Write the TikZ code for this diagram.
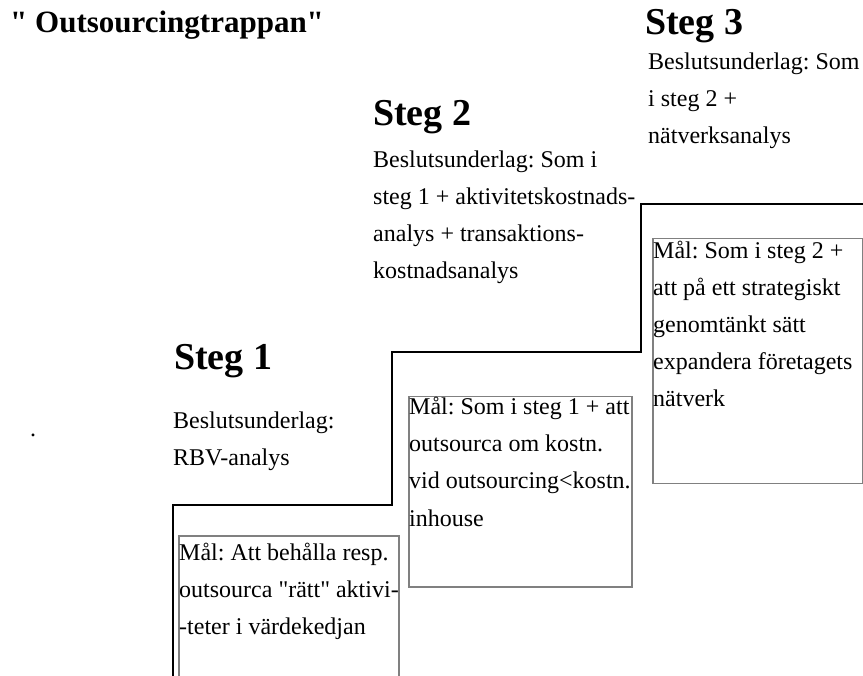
\documentclass[tikz,border=0pt]{standalone}
\usepackage{fontspec}
\setmainfont{Liberation Serif}[Ligatures=TeXOff]
\begin{document}
\frenchspacing
\begin{tikzpicture}[x=1pt,y=-1pt,
  body/.style={anchor=base west, inner sep=0pt, font=\fontsize{24}{37}\selectfont},
  stegtitle/.style={anchor=base west, inner sep=0pt, font=\fontsize{38}{40}\selectfont\bfseries},
  maintitle/.style={anchor=base west, inner sep=0pt, font=\fontsize{31}{36}\selectfont\bfseries},
  goalbox/.style={draw=black!50, line width=1.5pt, anchor=north west, inner sep=0pt},
  stair/.style={draw=black, line width=2pt}]
\useasboundingbox (0,0) rectangle (863,676);

% title
\node[maintitle] (title) at (10,33) {" Outsourcingtrappan"};
\node[body] (dot) at (30,437) {.};

% staircase
\coordinate (s0) at (173,690);
\coordinate (s1) at (173,505);
\coordinate (s2) at (392,505);
\coordinate (s3) at (392,352);
\coordinate (s4) at (641,352);
\coordinate (s5) at (641,204);
\coordinate (s6) at (870,204);
\draw[stair] (s0) -- (s1) -- (s2) -- (s3) -- (s4) -- (s5) -- (s6);

% Steg 3
\node[stegtitle] (t3) at (645,35) {Steg 3};
\node[body] (b3a) at (648,70) {Beslutsunderlag: Som};
\node[body] (b3b) at (648,107) {i steg 2 +};
\node[body] (b3c) at (648,144) {nätverksanalys};
\node[goalbox, minimum width=210pt, minimum height=245pt] (box3) at (652,238) {};
\node[body] (m3a) at (653,259) {Mål: Som i steg 2 +};
\node[body] (m3b) at (653,296) {att på ett strategiskt};
\node[body] (m3c) at (653,333) {genomtänkt sätt};
\node[body] (m3d) at (653,370) {expandera företagets};
\node[body] (m3e) at (653,407) {nätverk};

% Steg 2
\node[stegtitle] (t2) at (373,126) {Steg 2};
\node[body] (b2a) at (373,168) {Beslutsunderlag: Som i};
\node[body] (b2b) at (373,205) {steg 1 + aktivitetskostnads-};
\node[body] (b2c) at (373,242) {analys + transaktions-};
\node[body] (b2d) at (373,279) {kostnadsanalys};
\node[goalbox, minimum width=223pt, minimum height=190pt] (box2) at (408,396) {};
\node[body] (m2a) at (409,415) {Mål: Som i steg 1 + att};
\node[body] (m2b) at (409,452) {outsourca om kostn.};
\node[body] (m2c) at (409,489) {vid outsourcing<kostn.};
\node[body] (m2d) at (409,526) {inhouse};

% Steg 1
\node[stegtitle] (t1) at (174,370) {Steg 1};
\node[body] (b1a) at (173,429) {Beslutsunderlag:};
\node[body] (b1b) at (173,466) {RBV-analys};
\node[goalbox, minimum width=220pt, minimum height=200pt] (box1) at (178,535) {};
\node[body] (m1a) at (179,560) {Mål: Att behålla resp.};
\node[body] (m1b) at (179,597) {outsourca "rätt" aktivi-};
\node[body] (m1c) at (179,634) {-teter i värdekedjan};
\end{tikzpicture}
\end{document}
